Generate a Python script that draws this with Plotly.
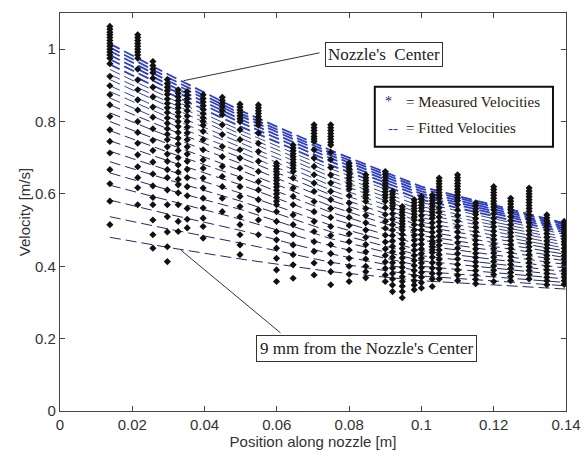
import plotly.graph_objects as go

# ---------------- data ----------------
# fitted-curve knots along the nozzle [m]
FIT_X = [0.0138, 0.03, 0.05, 0.075, 0.10, 0.14]
# fitted velocities [m/s] for the 24 radial positions (center -> 9 mm) at each knot
FIT_AT_0138 = [1.015, 1.005, 0.995, 0.984, 0.972, 0.958, 0.944, 0.930, 0.916, 0.899, 0.883, 0.865,
               0.846, 0.824, 0.800, 0.775, 0.747, 0.718, 0.689, 0.658, 0.624, 0.583, 0.537, 0.480]
FIT_AT_030 = [0.930, 0.921, 0.912, 0.902, 0.892, 0.879, 0.866, 0.854, 0.842, 0.826, 0.812, 0.796,
              0.779, 0.759, 0.738, 0.715, 0.691, 0.665, 0.639, 0.611, 0.581, 0.544, 0.503, 0.452]
FIT_AT_050 = [0.830, 0.822, 0.815, 0.806, 0.797, 0.786, 0.775, 0.765, 0.754, 0.741, 0.729, 0.715,
              0.700, 0.684, 0.665, 0.646, 0.625, 0.602, 0.580, 0.557, 0.530, 0.499, 0.464, 0.420]
FIT_AT_075 = [0.720, 0.713, 0.706, 0.698, 0.689, 0.679, 0.669, 0.658, 0.647, 0.636, 0.623, 0.610,
              0.597, 0.582, 0.566, 0.549, 0.532, 0.513, 0.495, 0.476, 0.456, 0.434, 0.411, 0.385]
FIT_AT_100 = [0.620, 0.614, 0.607, 0.600, 0.593, 0.584, 0.576, 0.565, 0.555, 0.545, 0.534, 0.522,
              0.511, 0.498, 0.485, 0.472, 0.458, 0.443, 0.429, 0.415, 0.400, 0.386, 0.373, 0.360]
FIT_AT_140 = [0.518, 0.514, 0.509, 0.504, 0.499, 0.493, 0.487, 0.480, 0.473, 0.466, 0.458, 0.450,
              0.442, 0.433, 0.424, 0.415, 0.405, 0.395, 0.385, 0.375, 0.365, 0.355, 0.346, 0.337]
FIT_TABLE = [FIT_AT_0138, FIT_AT_030, FIT_AT_050, FIT_AT_075, FIT_AT_100, FIT_AT_140]

# measured velocity columns: position [m] -> measured velocities [m/s]
MEAS_X = [0.0138, 0.0215, 0.0257, 0.0297, 0.0327, 0.0352, 0.0396, 0.0449, 0.0498, 0.0549,
          0.0599, 0.0645, 0.0703, 0.0749, 0.0800, 0.0846, 0.0900, 0.0920, 0.0947, 0.0980,
          0.1000, 0.1030, 0.1049, 0.1100, 0.1150, 0.1200, 0.1247, 0.1298, 0.1347, 0.1395]
MEAS_V = [
    [1.063, 1.055, 1.047, 1.040, 1.032, 1.024, 1.016, 1.008, 1.000, 0.992, 0.984, 0.975, 0.960,
     0.925, 0.899, 0.874, 0.846, 0.814, 0.777, 0.745, 0.713, 0.667, 0.628, 0.580, 0.515],
    [1.040, 1.032, 1.024, 1.016, 1.008, 1.000, 0.992, 0.984, 0.975, 0.945, 0.915, 0.888, 0.860,
     0.832, 0.800, 0.770, 0.740, 0.708, 0.675, 0.645, 0.617, 0.570],
    [0.966, 0.955, 0.945, 0.935, 0.920, 0.895, 0.868, 0.840, 0.812, 0.780, 0.748, 0.720, 0.688,
     0.655, 0.622, 0.590, 0.570, 0.528, 0.487, 0.450],
    [0.916, 0.905, 0.895, 0.885, 0.875, 0.862, 0.850, 0.838, 0.825, 0.810, 0.795, 0.780, 0.765,
     0.750, 0.730, 0.710, 0.690, 0.667, 0.645, 0.611, 0.570, 0.537, 0.495, 0.454, 0.413],
    [0.888, 0.878, 0.868, 0.858, 0.848, 0.838, 0.826, 0.814, 0.800, 0.786, 0.770, 0.754, 0.738,
     0.720, 0.700, 0.680, 0.660, 0.640, 0.625, 0.603, 0.570, 0.524, 0.496],
    [0.883, 0.873, 0.863, 0.853, 0.843, 0.830, 0.815, 0.800, 0.784, 0.768, 0.750, 0.730, 0.710,
     0.690, 0.668, 0.645, 0.620, 0.595, 0.560, 0.530, 0.506],
    [0.874, 0.864, 0.854, 0.844, 0.834, 0.822, 0.810, 0.800, 0.790, 0.773, 0.750, 0.722, 0.694,
     0.671, 0.644, 0.616, 0.588, 0.561, 0.533, 0.510, 0.478],
    [0.867, 0.858, 0.849, 0.840, 0.830, 0.819, 0.791, 0.764, 0.731, 0.703, 0.676, 0.648, 0.620,
     0.588, 0.551],
    [0.848, 0.840, 0.832, 0.824, 0.816, 0.808, 0.800, 0.777, 0.750, 0.722, 0.699, 0.671, 0.644,
     0.620, 0.593, 0.565, 0.537, 0.515, 0.487, 0.459, 0.432],
    [0.846, 0.838, 0.830, 0.822, 0.814, 0.806, 0.798, 0.790, 0.768, 0.740, 0.717, 0.690, 0.662,
     0.634, 0.611, 0.584, 0.556, 0.528, 0.487],
    [0.685, 0.677, 0.669, 0.661, 0.653, 0.645, 0.637, 0.628, 0.619, 0.610, 0.600, 0.590, 0.580,
     0.570, 0.551, 0.524, 0.496, 0.473, 0.450, 0.422, 0.390, 0.358],
    [0.735, 0.727, 0.719, 0.711, 0.703, 0.695, 0.687, 0.679, 0.671, 0.662, 0.644, 0.616, 0.593,
     0.570, 0.542, 0.515, 0.487, 0.459, 0.432, 0.404, 0.367],
    [0.791, 0.783, 0.775, 0.767, 0.759, 0.752, 0.745, 0.722, 0.699, 0.676, 0.653, 0.630, 0.607,
     0.579, 0.551, 0.524, 0.496, 0.468, 0.441, 0.409, 0.376],
    [0.791, 0.783, 0.775, 0.767, 0.759, 0.751, 0.743, 0.735, 0.715, 0.695, 0.673, 0.652, 0.630,
     0.607, 0.584, 0.560, 0.535, 0.510, 0.485, 0.460, 0.435, 0.410, 0.385, 0.349],
    [0.685, 0.677, 0.669, 0.661, 0.653, 0.645, 0.637, 0.629, 0.621, 0.613, 0.595, 0.575, 0.555,
     0.535, 0.513, 0.490, 0.468, 0.445, 0.422, 0.400, 0.378, 0.358],
    [0.653, 0.645, 0.637, 0.629, 0.621, 0.613, 0.605, 0.597, 0.589, 0.579, 0.560, 0.540, 0.520,
     0.500, 0.480, 0.460, 0.440, 0.420, 0.400, 0.385, 0.368],
    [0.662, 0.654, 0.646, 0.638, 0.630, 0.622, 0.614, 0.606, 0.598, 0.590, 0.580, 0.562, 0.543,
     0.524, 0.505, 0.486, 0.467, 0.448, 0.430, 0.412, 0.394, 0.376, 0.358],
    [0.607, 0.599, 0.591, 0.583, 0.575, 0.567, 0.559, 0.545, 0.530, 0.515, 0.500, 0.485, 0.470,
     0.455, 0.440, 0.425, 0.410, 0.395, 0.380, 0.365, 0.348, 0.330],
    [0.565, 0.557, 0.549, 0.541, 0.533, 0.525, 0.517, 0.509, 0.500, 0.488, 0.475, 0.462, 0.449,
     0.436, 0.423, 0.410, 0.397, 0.384, 0.371, 0.358, 0.345, 0.330, 0.313],
    [0.584, 0.576, 0.568, 0.560, 0.552, 0.544, 0.536, 0.528, 0.515, 0.500, 0.486, 0.472, 0.458,
     0.444, 0.430, 0.416, 0.402, 0.388, 0.374, 0.360, 0.348, 0.335],
    [0.593, 0.585, 0.577, 0.569, 0.561, 0.553, 0.540, 0.527, 0.514, 0.500, 0.487, 0.474, 0.461,
     0.448, 0.435, 0.422, 0.409, 0.396, 0.383, 0.370, 0.355, 0.340],
    [0.597, 0.589, 0.581, 0.573, 0.565, 0.557, 0.549, 0.541, 0.533, 0.520, 0.507, 0.494, 0.481,
     0.470, 0.462, 0.454, 0.446, 0.438, 0.425, 0.410, 0.395, 0.380, 0.365, 0.344],
    [0.644, 0.636, 0.628, 0.620, 0.612, 0.604, 0.596, 0.588, 0.575, 0.562, 0.549, 0.536, 0.523,
     0.510, 0.497, 0.484, 0.471, 0.458, 0.445, 0.432, 0.419, 0.406, 0.393, 0.380, 0.365],
    [0.653, 0.645, 0.637, 0.629, 0.621, 0.613, 0.605, 0.597, 0.589, 0.581, 0.570, 0.555, 0.540,
     0.525, 0.510, 0.495, 0.480, 0.465, 0.450, 0.435, 0.420, 0.405, 0.390, 0.375, 0.360],
    [0.575, 0.567, 0.559, 0.551, 0.543, 0.532, 0.520, 0.508, 0.496, 0.484, 0.472, 0.460, 0.448,
     0.436, 0.424, 0.412, 0.400, 0.388, 0.376, 0.364, 0.352],
    [0.620, 0.612, 0.604, 0.596, 0.588, 0.580, 0.572, 0.564, 0.556, 0.545, 0.533, 0.521, 0.509,
     0.497, 0.485, 0.473, 0.461, 0.449, 0.437, 0.425, 0.413, 0.401, 0.389, 0.377, 0.358],
    [0.588, 0.580, 0.572, 0.564, 0.556, 0.548, 0.537, 0.526, 0.515, 0.504, 0.493, 0.482, 0.471,
     0.460, 0.449, 0.438, 0.427, 0.416, 0.405, 0.394, 0.383, 0.372, 0.360],
    [0.616, 0.608, 0.600, 0.592, 0.584, 0.576, 0.568, 0.560, 0.552, 0.542, 0.531, 0.520, 0.509,
     0.498, 0.487, 0.476, 0.465, 0.454, 0.443, 0.432, 0.421, 0.410, 0.399, 0.388, 0.377, 0.365],
    [0.542, 0.534, 0.526, 0.518, 0.510, 0.500, 0.490, 0.480, 0.470, 0.460, 0.450, 0.440, 0.430,
     0.420, 0.410, 0.400, 0.390, 0.380, 0.370, 0.360, 0.349],
    [0.524, 0.516, 0.508, 0.500, 0.492, 0.484, 0.476, 0.468, 0.460, 0.450, 0.440, 0.430, 0.420,
     0.410, 0.400, 0.390, 0.380, 0.370, 0.360, 0.350],
]

X_TICKS = [0, 0.02, 0.04, 0.06, 0.08, 0.10, 0.12, 0.14]
X_TICK_TEXT = ["0", "0.02", "0.04", "0.06", "0.08", "0.1", "0.12", "0.14"]
Y_TICKS = [0, 0.2, 0.4, 0.6, 0.8, 1.0]
Y_TICK_TEXT = ["0", "0.2", "0.4", "0.6", "0.8", "1"]

# ---------------- figure ----------------
fig = go.Figure()

n_curves = len(FIT_AT_0138)
for k in range(n_curves):
    if k < 6:
        col, w = "#2f3fbf", 1.8
    elif k < 12:
        col, w = "#3a4590", 1.0
    else:
        col, w = "#232a6a", 1.0
    fig.add_trace(go.Scatter(
        x=FIT_X, y=[knot[k] for knot in FIT_TABLE], mode="lines",
        line=dict(color=col, width=w, dash="11px,5px"),
        showlegend=False, hoverinfo="skip"))

mx, my = [], []
for xv, col_vals in zip(MEAS_X, MEAS_V):
    for v in col_vals:
        mx.append(xv)
        my.append(v)
fig.add_trace(go.Scatter(
    x=mx, y=my, mode="markers",
    marker=dict(symbol="diamond", size=5.5, color="#111111", line=dict(width=0)),
    showlegend=False, hoverinfo="skip"))

serif = "Liberation Serif, Times New Roman, serif"

# annotation boxes and leader lines
fig.add_annotation(x=0.0896, y=0.985, xref="x", yref="y", text="Nozzle's&nbsp;&nbsp;Center",
                   showarrow=False, font=dict(family=serif, size=17, color="#222"),
                   bgcolor="white", bordercolor="#333", borderwidth=1, borderpad=2)
fig.add_shape(type="line", x0=0.0342, y0=0.913, x1=0.0718, y1=0.990,
              xref="x", yref="y", line=dict(color="#333", width=1))

fig.add_annotation(x=0.0847, y=0.174, xref="x", yref="y", text="9 mm from the Nozzle's Center",
                   showarrow=False, font=dict(family=serif, size=17, color="#222"),
                   bgcolor="white", bordercolor="#333", borderwidth=1, borderpad=3)
fig.add_shape(type="line", x0=0.0334, y0=0.445, x1=0.0610, y1=0.216,
              xref="x", yref="y", line=dict(color="#333", width=1))

# legend box
fig.add_shape(type="rect", x0=0.0871, y0=0.730, x1=0.1364, y1=0.896,
              xref="x", yref="y", line=dict(color="#111", width=2), fillcolor="white", layer="above")
fig.add_annotation(x=0.0910, y=0.855, xref="x", yref="y", text="*", showarrow=False,
                   font=dict(family=serif, size=14, color="#1a2a80"))
fig.add_annotation(x=0.0952, y=0.855, xref="x", yref="y", text="= Measured Velocities",
                   xanchor="left", showarrow=False, font=dict(family=serif, size=15, color="#2a1a10"))
fig.add_annotation(x=0.0920, y=0.782, xref="x", yref="y", text="--", showarrow=False,
                   font=dict(family=serif, size=15, color="#3040c0"))
fig.add_annotation(x=0.0952, y=0.782, xref="x", yref="y", text="= Fitted Velocities",
                   xanchor="left", showarrow=False, font=dict(family=serif, size=15, color="#2a1a10"))

axis_font = dict(family="Liberation Sans, Arial, sans-serif", size=15, color="#333")
fig.update_layout(
    width=581, height=455,
    margin=dict(l=60, r=15, t=13, b=44, autoexpand=False),
    paper_bgcolor="white", plot_bgcolor="white",
    showlegend=False,
    font=axis_font,
)
fig.update_xaxes(range=[0, 0.14], tickvals=X_TICKS, ticktext=X_TICK_TEXT, automargin=False,
                 ticks="inside", ticklen=5, tickcolor="#444", showgrid=False, zeroline=False,
                 showline=True, linecolor="#444", linewidth=1.3, mirror="ticks",
                 title=dict(text="Position along nozzle [m]", font=dict(size=15), standoff=0),
                 tickfont=axis_font)
fig.update_yaxes(range=[0, 1.1], tickvals=Y_TICKS, ticktext=Y_TICK_TEXT, automargin=False,
                 ticks="inside", ticklen=5, tickcolor="#444", showgrid=False, zeroline=False,
                 showline=True, linecolor="#444", linewidth=1.3, mirror="ticks",
                 title=dict(text="Velocity [m/s]", font=dict(size=15), standoff=0),
                 tickfont=axis_font)

fig.write_html("out.html", config={"displayModeBar": False},
               post_script="document.body.style.margin='0';document.body.style.overflow='hidden';")
